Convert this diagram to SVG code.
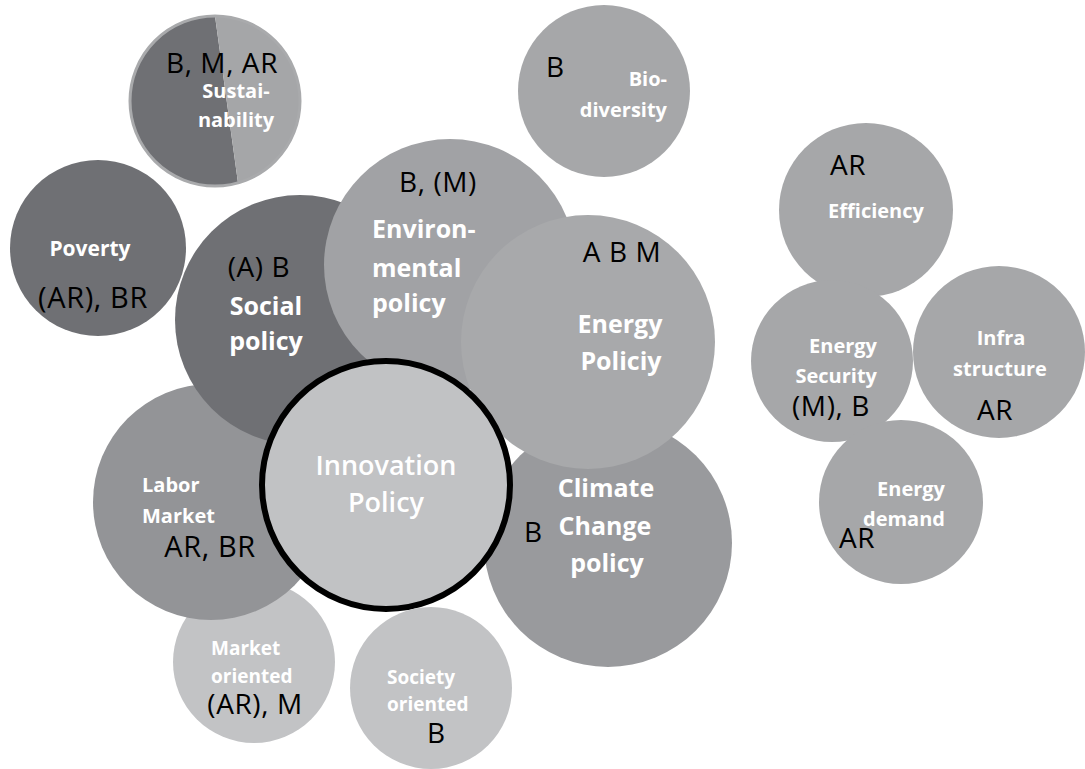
<svg xmlns="http://www.w3.org/2000/svg" width="1085" height="769" viewBox="0 0 1085 769">
<defs>
<style>
.w{font-family:"Open Sans","Noto Sans",sans-serif;font-weight:bold;fill:#ffffff;}
.k{font-family:"Open Sans","Noto Sans",sans-serif;fill:#000000;font-size:28px;letter-spacing:0.6px;}
.m{text-anchor:middle;}
.e{text-anchor:end;}
</style>
<clipPath id="sc"><circle cx="215" cy="101" r="85"/></clipPath>
</defs>
<rect width="1085" height="769" fill="#ffffff"/>
<g id="sustainability">
<g clip-path="url(#sc)">
<polygon points="120,0 215,0 215,16 239,190 120,190" fill="#6f7074"/>
<polygon points="215,0 310,0 310,190 239,190 215,16" fill="#a5a6a8"/>
</g>
<circle cx="215" cy="101" r="85" fill="none" stroke="#a9aaac" stroke-width="3"/>
<text class="k m" x="222" y="73">B, M, AR</text>
<text class="w m" x="236" y="98" font-size="20">Sustai-</text>
<text class="w m" x="236" y="127" font-size="20">nability</text>
</g>
<g id="biodiversity">
<circle cx="604" cy="91" r="86" fill="#a6a7a9"/>
<text class="k" x="546" y="77">B</text>
<text class="w e" x="667" y="86" font-size="20">Bio-</text>
<text class="w e" x="667" y="117" font-size="20">diversity</text>
</g>
<g id="poverty">
<circle cx="98" cy="248" r="88" fill="#6f7074"/>
<text class="w m" x="90" y="256" font-size="21">Poverty</text>
<text class="k m" x="93" y="308" style="font-size:29px">(AR), BR</text>
</g>
<g id="market-oriented">
<circle cx="254" cy="662" r="81" fill="#c2c3c5"/>
</g>
<g id="labor-market">
<circle cx="211" cy="502" r="118" fill="#939497"/>
</g>
<g id="social-policy">
<circle cx="300" cy="320" r="125" fill="#6f7074"/>
</g>
<g id="environmental-policy">
<circle cx="450" cy="265" r="126" fill="#a1a2a5"/>
</g>
<g id="climate-change-policy">
<circle cx="608" cy="543" r="124" fill="#999a9d"/>
</g>
<g id="energy-policy">
<circle cx="588" cy="342" r="127" fill="#a8a9ab"/>
</g>
<g id="innovation-policy">
<circle cx="386" cy="485" r="124" fill="#c1c2c4" stroke="#000000" stroke-width="6"/>
</g>
<g id="society-oriented">
<circle cx="431" cy="688" r="81" fill="#c2c3c5"/>
</g>
<g id="social-text">
<text class="k m" x="259" y="277">(A) B</text>
<text class="w m" x="266" y="315" font-size="25">Social</text>
<text class="w m" x="266" y="350" font-size="25">policy</text>
</g>
<g id="environmental-text">
<text class="k m" x="438" y="192">B, (M)</text>
<text class="w" x="372" y="238" font-size="25">Environ-</text>
<text class="w" x="372" y="277" font-size="25">mental</text>
<text class="w" x="372" y="312" font-size="25">policy</text>
</g>
<g id="energy-text">
<text class="k m" x="622" y="262">A B M</text>
<text class="w m" x="620" y="333" font-size="25">Energy</text>
<text class="w m" x="621" y="370" font-size="25">Policiy</text>
</g>
<g id="climate-text">
<text class="k" x="524" y="542">B</text>
<text class="w m" x="606" y="497" font-size="25">Climate</text>
<text class="w m" x="605" y="535" font-size="25">Change</text>
<text class="w m" x="607" y="572" font-size="25">policy</text>
</g>
<g id="innovation-text">
<text class="w m" x="386" y="475" font-size="27" style="font-weight:600">Innovation</text>
<text class="w m" x="386" y="512" font-size="27" style="font-weight:600">Policy</text>
</g>
<g id="labor-text">
<text class="w" x="142" y="492" font-size="20">Labor</text>
<text class="w" x="142" y="523" font-size="20">Market</text>
<text class="k m" x="210" y="557" style="font-size:29px">AR, BR</text>
</g>
<g id="market-text">
<text class="w" x="211" y="655" font-size="19">Market</text>
<text class="w" x="211" y="683" font-size="19">oriented</text>
<text class="k m" x="255" y="714">(AR), M</text>
</g>
<g id="society-text">
<text class="w" x="387" y="684" font-size="19">Society</text>
<text class="w" x="387" y="711" font-size="19">oriented</text>
<text class="k" x="427" y="743">B</text>
</g>
<g id="efficiency">
<circle cx="866" cy="210" r="87" fill="#a6a7a9"/>
<text class="k m" x="848" y="175">AR</text>
<text class="w m" x="876" y="218" font-size="20">Efficiency</text>
</g>
<g id="energy-security">
<circle cx="832" cy="361" r="81" fill="#a6a7a9"/>
<text class="w e" x="877" y="353" font-size="20">Energy</text>
<text class="w e" x="877" y="383" font-size="20">Security</text>
<text class="k" x="792" y="416">(M), B</text>
</g>
<g id="infrastructure">
<circle cx="999" cy="352" r="86" fill="#a6a7a9"/>
<text class="w m" x="1001" y="345" font-size="20">Infra</text>
<text class="w m" x="1000" y="376" font-size="20">structure</text>
<text class="k m" x="995" y="420">AR</text>
</g>
<g id="energy-demand">
<circle cx="901" cy="502" r="82" fill="#a6a7a9"/>
<text class="w e" x="945" y="496" font-size="20">Energy</text>
<text class="w e" x="945" y="526" font-size="20">demand</text>
<text class="k" x="839" y="548">AR</text>
</g>
<g id="connectors"/>
</svg>
